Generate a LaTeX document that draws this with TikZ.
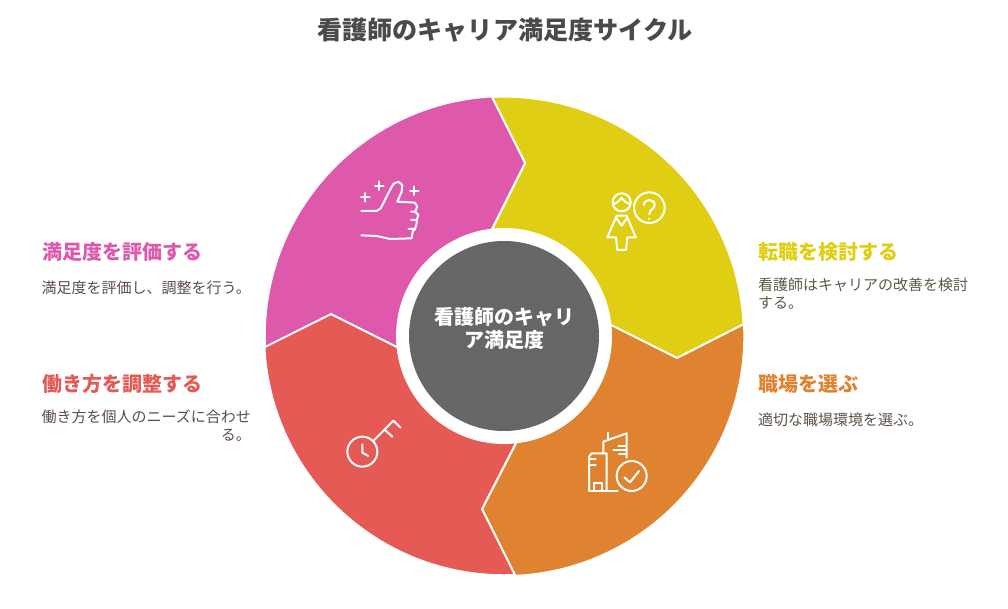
\documentclass[tikz,border=0pt]{standalone}
\usepackage{fontspec}
\setmainfont{Noto Sans CJK JP}
\definecolor{pinkseg}{HTML}{DE58AB}
\definecolor{yellowseg}{HTML}{E0CE15}
\definecolor{orangeseg}{HTML}{DF8330}
\definecolor{redseg}{HTML}{E65A55}
\definecolor{hubgrey}{HTML}{666666}
\definecolor{titlegrey}{HTML}{4A4A4A}
\tikzset{
    segment/.style={draw=white,line width=2pt,line join=miter},
    headlabel/.style={anchor=west,inner sep=0pt,font=\fontsize{20}{24}\selectfont\bfseries},
    bodylabel/.style={inner sep=0pt,font=\fontsize{15}{18}\selectfont},
    icon/.style={draw=white,line width=2pt,line cap=round,line join=round},
}
\begin{document}
\begin{tikzpicture}[x=1pt,y=-1pt]
    \useasboundingbox (0,0) rectangle (1008,609);
    \coordinate (hub) at (504,336);

    \node[text=titlegrey,inner sep=0pt,font=\fontsize{25.1}{30}\selectfont\bfseries] (title) at (505,30) {看護師のキャリア満足度サイクル};

    % the four parts of the ring
    \filldraw[segment,fill=yellowseg] (491,97) arc[start angle=-93.1,end angle=-2.9,radius=240] -- (677,358) -- (611,325) -- (hub) -- (491,231) -- (525,163) -- cycle;
    \filldraw[segment,fill=orangeseg] (744,324) arc[start angle=-2.9,end angle=87.4,radius=240] -- (482,509) -- (516,443) -- (hub) -- (611,325) -- (677,358) -- cycle;
    \filldraw[segment,fill=redseg] (515,575) arc[start angle=87.4,end angle=177.4,radius=240] -- (331,314) -- (397,347) -- (hub) -- (516,443) -- (482,509) -- cycle;
    \filldraw[segment,fill=pinkseg] (265,347) arc[start angle=177.4,end angle=266.9,radius=240] -- (525,163) -- (491,231) -- (hub) -- (397,347) -- (331,314) -- cycle;

    \fill[white] (hub) circle[radius=108];
    \fill[hubgrey] (hub) circle[radius=95];
    \node[text=white,inner sep=0pt,align=center,font=\fontsize{20}{23}\selectfont\bfseries] (hubtext) at (504,328) {看護師のキャリ\\ア満足度};

    % thumb
    \begin{scope}[shift={(340,160)},scale=1/3]
        \draw[icon] (64,153) -- (110,153) -- (122,145) -- (150,90) -- (160,72) -- (175,65) -- (187,75) -- (185,95) -- (172,125) -- (225,128) -- (232,140) -- (225,155) -- (213,155);
        \draw[icon] (225,155) -- (235,165) -- (230,180) -- (213,180);
        \draw[icon] (230,180) -- (230,190) -- (225,207) -- (205,207);
        \draw[icon] (225,207) -- (218,215) -- (215,235) -- (150,237) -- (110,228) -- (64,226);
        \draw[icon] (105,77) -- (131,77) (118,64) -- (118,90);
        \draw[icon] (63,112) -- (89,112) (76,99) -- (76,125);
        \draw[icon] (210,92) -- (236,92) (223,79) -- (223,105);
    \end{scope}

    % person with question
    \begin{scope}[shift={(590,175)},scale=1/3]
        \draw[icon] (95,82) circle[radius=27];
        \draw[icon] (70,88) .. controls (80,85) and (88,78) .. (95,68) .. controls (102,78) and (110,85) .. (120,88);
        \draw[icon] (80,122) -- (110,122) -- (137,187) -- (112,187) -- (108,225) -- (82,225) -- (78,187) -- (52,187) -- cycle;
        \draw[icon] (78,128) -- (95,152) -- (112,128);
        \draw[icon] (178,98) circle[radius=46];
        \draw[icon] (162,90) .. controls (162,70) and (194,70) .. (194,90) .. controls (194,103) and (178,102) .. (178,118);
        \draw[icon] (178,131) -- (178,132);
    \end{scope}

    % buildings with check
    \begin{scope}[shift={(575,425)},scale=1/3]
        \draw[icon] (42,197) -- (42,95) -- (50,85) -- (95,85) -- (95,197);
        \draw[icon] (42,197) -- (128,197);
        \draw[icon] (58,197) -- (58,175) -- (80,175) -- (80,197);
        \draw[icon] (42,103) -- (62,103) (42,120) -- (62,120);
        \draw[icon] (85,85) -- (85,50) -- (155,25) -- (155,98);
        \draw[icon] (100,22) -- (100,45);
        \draw[icon] (155,62) -- (130,62) (155,75) -- (115,75) (155,87) -- (132,87);
        \draw[icon] (170,153) circle[radius=45];
        \draw[icon] (148,157) -- (165,172) -- (192,138);
    \end{scope}

    % key with clock
    \begin{scope}[shift={(335,410)},scale=1/3]
        \draw[icon] (82,125) circle[radius=45];
        \draw[icon] (82,103) -- (82,128) -- (100,138);
        \draw[icon] (115,93) -- (175,32) -- (197,53);
        \draw[icon] (150,60) -- (172,80);
    \end{scope}

    % labels right
    \node[headlabel,text=yellowseg] (convert) at (758,252) {転職を検討する};
    \node[bodylabel,anchor=north west,align=left,text=yellowseg!12!titlegrey] (converttext) at (758,277.5) {看護師はキャリアの改善を検討\\する。};
    \node[headlabel,text=orangeseg] (choose) at (758,384) {職場を選ぶ};
    \node[bodylabel,anchor=west,text=orangeseg!12!titlegrey] (choosetext) at (758,420) {適切な職場環境を選ぶ。};

    % labels left
    \node[headlabel,text=pinkseg] (review) at (42,252) {満足度を評価する};
    \node[bodylabel,anchor=west,text=pinkseg!12!titlegrey] (reviewtext) at (41.5,288) {満足度を評価し、調整を行う。};
    \node[headlabel,text=redseg] (adjust) at (42,384) {働き方を調整する};
    \node[bodylabel,anchor=north east,align=right,text=redseg!12!titlegrey] (adjusttext) at (251,410) {働き方を個人のニーズに合わせ\\る。};
\end{tikzpicture}
\end{document}
